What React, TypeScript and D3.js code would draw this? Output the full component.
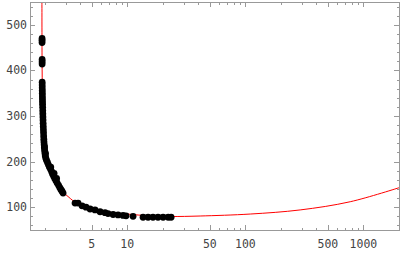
import { useEffect, useRef } from "react";
import * as d3 from "d3";

// measured samples (x, y)
const samples: [number, number][] = [
  [1.898, 470], [1.898, 466], [1.898, 461], [1.9, 424], [1.9, 419], [1.9, 414],
  [1.902, 374], [1.903, 368], [1.904, 362], [1.906, 356], [1.908, 350], [1.91, 344],
  [1.912, 338], [1.914, 332], [1.917, 326], [1.92, 319], [1.923, 312], [1.926, 305],
  [1.93, 298], [1.934, 291], [1.938, 284], [1.943, 277], [1.948, 270], [1.953, 263],
  [1.958, 256], [1.964, 249], [1.97, 243], [1.977, 237], [1.985, 231], [1.995, 225],
  [2.005, 219], [2.02, 213], [2.04, 208], [2.07, 203], [2.11, 198], [2.15, 193],
  [2.19, 188], [2.24, 183], [2.29, 178], [2.33, 173], [2.38, 168], [2.43, 163],
  [2.49, 158], [2.55, 153], [2.62, 148], [2.68, 143], [2.74, 139], [2.8, 135],
  [2.86, 131], [2.25, 188], [2.4, 174], [2.52, 163], [1.99, 232], [2.03, 218],
  [3.61, 109], [3.83, 109], [4.14, 103], [4.47, 100], [4.84, 96], [5.33, 94],
  [5.88, 90], [6.48, 88], [6.87, 86], [7.58, 84], [8.35, 83], [9.21, 82],
  [9.76, 81], [11.19, 80], [13.6, 78], [15.0, 78], [16.5, 78], [18.2, 78],
  [20.1, 78], [22.2, 78], [23.5, 78],
];

// fitted curve
const fitX = [1.893, 1.898, 1.914, 1.972, 2.09, 2.396, 2.8, 3.03, 3.61, 4.39, 5.88, 9.96, 15.6, 23.1, 41.4, 110, 291, 773, 2052];
const fitY = [560, 423, 346, 247, 201, 160, 133, 127, 111, 100, 92, 85, 81, 79.6, 80.7, 85, 94, 112, 143.6];

const xMajor = [5, 10, 50, 100, 500, 1000];
const xMinor = [2, 3, 4, 6, 7, 8, 9, 20, 30, 40, 60, 70, 80, 90, 200, 300, 400, 600, 700, 800, 900];
const yMajor = [100, 200, 300, 400, 500];
const yMinor = [60, 80, 120, 140, 160, 180, 220, 240, 260, 280, 320, 340, 360, 380, 420, 440, 460, 480, 520, 540];

export default function App() {
  const ref = useRef<SVGSVGElement>(null);

  useEffect(() => {
    const svg = d3.select(ref.current);
    svg.selectAll("*").remove();
    const left = 30, right = 399, top = 2, bottom = 230;
    const x = d3.scaleLog().domain([1.5, 2000]).range([left, right]);
    const y = d3.scaleLinear().domain([50, 550]).range([bottom, top]);
    const frame = "#999";

    svg.append("defs").append("clipPath").attr("id", "plot")
      .append("rect").attr("x", left).attr("y", top).attr("width", right - left).attr("height", bottom - top);

    // red fit curve
    const line = d3.line<number>()
      .x((i) => x(fitX[i]))
      .y((i) => y(fitY[i]))
      .curve(d3.curveCatmullRom.alpha(0.5));
    svg.append("path")
      .attr("d", line(fitX.map((_, i) => i)))
      .attr("fill", "none")
      .attr("stroke", "#ff0000")
      .attr("stroke-width", 1)
      .attr("clip-path", "url(#plot)");

    svg.append("g").selectAll("circle").data(samples).join("circle")
      .attr("cx", (d) => x(d[0]))
      .attr("cy", (d) => y(d[1]))
      .attr("r", 3.4)
      .attr("fill", "#000");

    // frame
    svg.append("rect")
      .attr("x", left).attr("y", top + 0.5)
      .attr("width", right - left).attr("height", bottom - top - 0.5)
      .attr("fill", "none").attr("stroke", frame).attr("stroke-width", 1)
      .attr("shape-rendering", "crispEdges");

    const ticks = svg.append("g").attr("stroke", frame).attr("stroke-width", 1).attr("shape-rendering", "crispEdges");
    const xt = [...xMajor.map((v) => ({ v, len: 5 })), ...xMinor.map((v) => ({ v, len: 2.5 }))];
    xt.forEach(({ v, len }) => {
      const px = Math.round(x(v)) + 0.5;
      ticks.append("line").attr("x1", px).attr("x2", px).attr("y1", bottom).attr("y2", bottom - len);
      ticks.append("line").attr("x1", px).attr("x2", px).attr("y1", top).attr("y2", top + len);
    });
    const yt = [...yMajor.map((v) => ({ v, len: 5 })), ...yMinor.map((v) => ({ v, len: 2.5 }))];
    yt.forEach(({ v, len }) => {
      const py = Math.round(y(v)) + 0.5;
      ticks.append("line").attr("x1", left).attr("x2", left + len).attr("y1", py).attr("y2", py);
      ticks.append("line").attr("x1", right).attr("x2", right - len).attr("y1", py).attr("y2", py);
    });

    const font = "'DejaVu Sans Mono', monospace";
    svg.append("g").selectAll("text").data(xMajor).join("text")
      .attr("x", (d) => x(d))
      .attr("y", 248)
      .attr("text-anchor", "middle")
      .attr("font-family", font)
      .attr("font-size", 11.5)
      .attr("fill", "#444")
      .text((d) => d);

    svg.append("g").selectAll("text").data(yMajor).join("text")
      .attr("x", 27)
      .attr("y", (d) => y(d) + 4)
      .attr("text-anchor", "end")
      .attr("font-family", font)
      .attr("font-size", 11.5)
      .attr("fill", "#444")
      .text((d) => d);
  }, []);

  return (
    <svg
      ref={ref}
      width={400}
      height={256}
      style={{ position: "absolute", left: 0, top: 0, background: "#fff" }}
    />
  );
}
